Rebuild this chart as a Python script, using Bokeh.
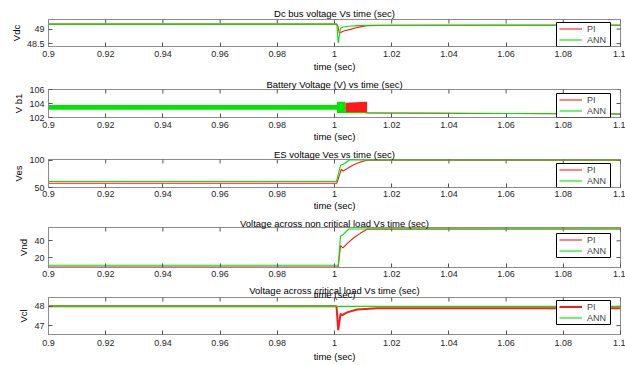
import math
from bokeh.plotting import figure
from bokeh.layouts import column
from bokeh.models import (FixedTicker, Legend, LegendItem, LinearAxis, Range1d, BoxAnnotation)
from bokeh.embed import file_html
from bokeh.resources import INLINE

FONT = "Liberation Sans"
RED = "#ff1a1a"
GREEN = "#00e600"
AXC = "#8c8c8c"

x_ticks = [0.9, 0.92, 0.94, 0.96, 0.98, 1.0, 1.02, 1.04, 1.06, 1.08, 1.1]
x_tick_labels = ["0.9", "0.92", "0.94", "0.96", "0.98", "1", "1.02", "1.04", "1.06", "1.08", "1.1"]
x_label = "time (sec)"
series_names = ["PI", "ANN"]
titles = ["Dc bus voltage Vs time (sec)",
          "Battery Voltage (V) vs time (sec)",
          "ES voltage Ves vs time (sec)",
          "Voltage across non critical load Vs time (sec)",
          "Voltage across critical load Vs time (sec)"]
y_labels = ["Vdc", "V b1", "Ves", "Vnd", "Vcl"]

# Panel 1: Dc bus voltage
t_vdc_pi = [0.9, 1.0008, 1.0012, 1.0017, 1.0025, 1.0035, 1.0056, 1.008, 1.0114, 1.02, 1.1]
vdc_pi = [49.17, 49.17, 49.1, 48.86, 48.9, 48.94, 48.99, 49.06, 49.12, 49.13, 49.13]
t_vdc_ann = [0.9, 1.0008, 1.0013, 1.0021, 1.003, 1.005, 1.008, 1.012, 1.1]
vdc_ann = [49.17, 49.17, 48.52, 49.03, 49.07, 49.1, 49.12, 49.13, 49.14]
vdc_yticks = [48.5, 49]
vdc_ylabels = ["48.5", "49"]

# Panel 2: Battery voltage (ripple shown as envelopes)
t_vb_ann_band = [0.9, 1.0008, 1.0009, 1.0038]
vb_ann_upper = [103.8, 103.8, 104.25, 104.25]
vb_ann_lower = [103.1, 103.1, 102.65, 102.65]
t_vb_ann = [0.9, 1.0008, 1.0038, 1.012, 1.05, 1.1]
vb_ann = [103.45, 103.45, 102.7, 102.68, 102.6, 102.5]
t_vb_pi_band = [1.0038, 1.0114]
vb_pi_upper = [104.1, 104.25]
vb_pi_lower = [102.65, 102.65]
t_vb_pi = [0.9, 1.0008, 1.0038, 1.0114, 1.05, 1.1]
vb_pi = [103.45, 103.45, 103.4, 102.65, 102.58, 102.5]
vb_yticks = [102, 104, 106]
vb_ylabels = ["102", "104", "106"]

# Panel 3: ES voltage
t_ves_pi = [0.9, 1.0008, 1.0024, 1.003, 1.0045, 1.0067, 1.009, 1.0114, 1.1]
ves_pi = [57.8, 57.8, 84, 80.4, 85, 92, 97, 100.3, 100.5]
t_ves_ann = [0.9, 1.0007, 1.0021, 1.0031, 1.0052, 1.1]
ves_ann = [61.2, 61.2, 91, 93, 100.8, 100.8]
ves_yticks = [50, 100]
ves_ylabels = ["50", "100"]

# Panel 4: non critical load voltage
t_vnd_pi = [0.9, 1.0013, 1.0021, 1.003, 1.0045, 1.0067, 1.009, 1.0114, 1.1]
vnd_pi = [8.6, 8.6, 34.3, 31.6, 37, 43.7, 49, 54, 54.2]
t_vnd_ann = [0.9, 1.0013, 1.0021, 1.003, 1.005, 1.1]
vnd_ann = [10.7, 10.7, 45.6, 47.5, 54.2, 54.2]
vnd_yticks = [20, 40]
vnd_ylabels = ["20", "40"]

# Panel 5: critical load voltage
t_vcl_pi = [0.9, 1.0007, 1.0013, 1.0021, 1.0027, 1.0044, 1.0079, 1.0149, 1.1]
vcl_pi = [48.0, 48.0, 46.77, 47.61, 47.54, 47.69, 47.84, 47.9, 47.9]
t_vcl_ann = [0.9, 1.0, 1.1]
vcl_ann = [48.0, 48.0, 48.0]
vcl_yticks = [47, 48]
vcl_ylabels = ["47", "48"]


def make_panel(idx, yr, yticks, ylabels, height, btop, bbottom, xlabel, tick_standoff,
               xlabel_standoff, title_standoff, top_text=None):
    p = figure(width=625, height=height, x_range=Range1d(0.9, 1.1), y_range=Range1d(*yr),
               output_backend="svg", toolbar_location=None,
               min_border_left=48, min_border_right=5,
               min_border_top=btop, min_border_bottom=bbottom, title=None)
    p.xgrid.visible = False
    p.ygrid.visible = False
    p.outline_line_color = AXC
    p.background_fill_color = "white"
    p.border_fill_color = "white"

    xa = p.xaxis[0]
    xa.ticker = FixedTicker(ticks=x_ticks)
    xa.major_label_overrides = dict(zip(x_ticks, x_tick_labels))
    ya = p.yaxis[0]
    ya.ticker = FixedTicker(ticks=yticks)
    ya.major_label_overrides = dict(zip(yticks, ylabels))
    for ax in (xa, ya):
        ax.major_label_text_font = FONT
        ax.major_label_text_font_size = "9px"
        ax.major_label_text_color = "#262626"
        ax.major_tick_in = 4
        ax.major_tick_out = 0
        ax.minor_tick_line_color = None
        ax.axis_line_color = AXC
        ax.major_tick_line_color = "#555555"
        ax.axis_label_text_font = FONT
        ax.axis_label_text_font_size = "9.5px"
        ax.axis_label_text_font_style = "normal"
        ax.axis_label_text_color = "#000000"
    xa.major_label_standoff = tick_standoff
    xa.axis_label_standoff = xlabel_standoff
    ya.major_label_standoff = 4
    ya.axis_label_standoff = 2
    if xlabel:
        xa.axis_label = x_label
    ya.axis_label = y_labels[idx]

    # panel title as the label of a tick-less axis above the box
    if top_text is None:
        top = LinearAxis(ticker=FixedTicker(ticks=[]), major_label_standoff=0)
    else:
        # the x-axis title of the panel above, overlapping this panel's title
        top = LinearAxis(ticker=FixedTicker(ticks=[1.0]), major_label_standoff=-2,
                         major_label_overrides={1.0: top_text},
                         major_label_text_font=FONT, major_label_text_font_size="9.5px",
                         major_label_text_color="#000000")
    top.axis_label = titles[idx]
    top.axis_label_standoff = title_standoff
    top.axis_label_text_font = FONT
    top.axis_label_text_font_size = "9.5px"
    top.axis_label_text_font_style = "normal"
    top.axis_label_text_color = "#000000"
    top.axis_line_color = None
    top.major_tick_line_color = None
    top.minor_tick_line_color = None
    top.major_tick_in = 0
    top.major_tick_out = 0
    p.add_layout(top, "above")

    # inward ticks on the top and right edges of the box (clipped half-dashes)
    p.scatter(x=x_ticks, y=[yr[1]] * len(x_ticks), marker="dash", angle=math.pi / 2,
              size=8, line_color="#555555", line_width=1)
    p.scatter(x=[x_ticks[-1]] * len(yticks), y=yticks, marker="dash",
              size=8, line_color="#555555", line_width=1)
    return p


def add_legend(p, r_pi, r_ann, ly):
    # white box with black border, then one single-entry legend per series
    p.add_layout(BoxAnnotation(left=508, right=562, bottom=ly, top=ly + 24,
                               left_units="screen", right_units="screen",
                               bottom_units="screen", top_units="screen",
                               fill_color="white", fill_alpha=1,
                               line_color="black", line_width=1, line_alpha=1))
    for k, (name, r) in enumerate(zip(series_names, [r_pi, r_ann])):
        leg = Legend(items=[LegendItem(label=name, renderers=[r])],
                     location=(511, ly + 12 - 11 * k), label_text_font=FONT,
                     label_text_font_size="9px", glyph_width=23, glyph_height=11,
                     label_height=11, label_standoff=5, spacing=0, padding=0, margin=0,
                     border_line_color=None, background_fill_alpha=0)
        p.add_layout(leg, "center")


# Panel 1: figure 0-74, frame 19-47
p1 = make_panel(0, (48.4, 49.33), vdc_yticks, vdc_ylabels, 74, 19, 27, True, 4, 1, 1)
r1p = p1.line(t_vdc_pi, vdc_pi, line_color=RED, line_width=1.1)
r1a = p1.line(t_vdc_ann, vdc_ann, line_color=GREEN, line_width=1.1)
add_legend(p1, r1p, r1a, 0)

# Panel 2: figure 74-144, frame 89-118
p2 = make_panel(1, (102, 106), vb_yticks, vb_ylabels, 70, 15, 26, True, 4, 0, 0)
p2.varea(x=t_vb_pi_band, y1=vb_pi_lower, y2=vb_pi_upper, fill_color=RED)
r2p = p2.line(t_vb_pi, vb_pi, line_color=RED, line_width=1.1)
p2.varea(x=t_vb_ann_band, y1=vb_ann_lower, y2=vb_ann_upper, fill_color=GREEN)
r2a = p2.line(t_vb_ann, vb_ann, line_color=GREEN, line_width=1.1)
add_legend(p2, r2p, r2a, 0)

# Panel 3: figure 144-213, frame 159-188
p3 = make_panel(2, (50, 101.8), ves_yticks, ves_ylabels, 69, 15, 25, True, 3, 0, 0)
r3p = p3.line(t_ves_pi, ves_pi, line_color=RED, line_width=1.1)
r3a = p3.line(t_ves_ann, ves_ann, line_color=GREEN, line_width=1.1)
add_legend(p3, r3p, r3a, 0)

# Panel 4: figure 213-281, frame 227-267
p4 = make_panel(3, (8, 56), vnd_yticks, vnd_ylabels, 68, 14, 14, False, 3, 0, -1)
r4p = p4.line(t_vnd_pi, vnd_pi, line_color=RED, line_width=1.1)
r4a = p4.line(t_vnd_ann, vnd_ann, line_color=GREEN, line_width=1.1)
add_legend(p4, r4p, r4a, 10)

# Panel 5: figure 281-364, frame 295-335; carries panel 4's x-axis title
p5 = make_panel(4, (46.54, 48.46), vcl_yticks, vcl_ylabels, 83, 14, 29, True, 5, 2, -10,
                top_text=x_label)
r5p = p5.line(t_vcl_pi, vcl_pi, line_color=RED, line_width=2)
r5a = p5.line(t_vcl_ann, vcl_ann, line_color=GREEN, line_width=1.1)
add_legend(p5, r5p, r5a, 10)

layout = column(p1, p2, p3, p4, p5, spacing=0)
open("out.html", "w").write(file_html(layout, INLINE))
